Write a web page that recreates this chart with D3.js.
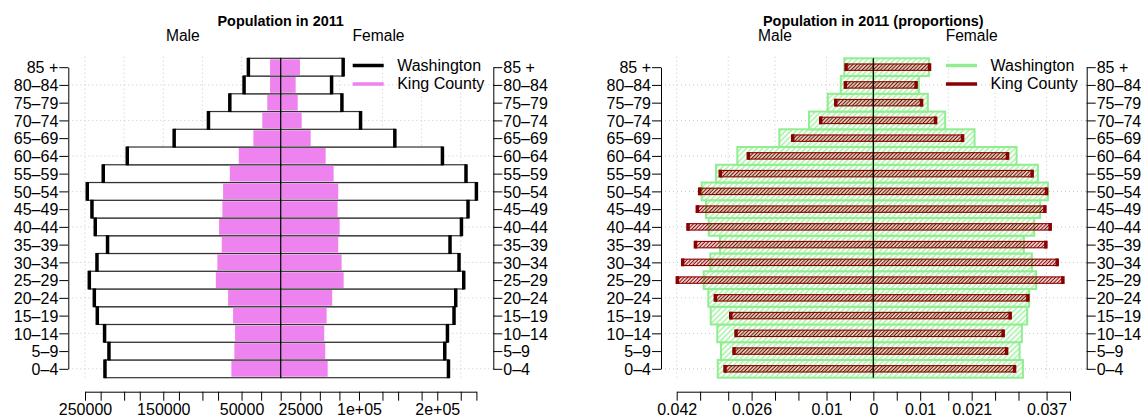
<!DOCTYPE html>
<html><head><meta charset="utf-8">
<script src="https://cdn.jsdelivr.net/npm/d3@7"></script>
<style>
body{margin:0;background:#fff;}
svg{font-family:"Liberation Sans",Arial,Helvetica,sans-serif;}
</style></head><body>
<svg id="c" width="1142" height="417"></svg>
<script>
// ---------- data (ordered 0–4 ... 85 +) ----------
const ages = ["0–4","5–9","10–14","15–19","20–24","25–29","30–34","35–39","40–44","45–49","50–54","55–59","60–64","65–69","70–74","75–79","80–84","85 +"];
const waMale   = [224500,219400,225000,234300,238100,244500,234700,221200,236900,241100,247100,226700,196000,136100,92300,65000,46800,41300];
const waFemale = [214300,209600,213000,221400,223600,233800,227800,216300,230900,239300,250000,236700,206600,145800,102000,78200,65000,79800];
const kcMale   = [63000,59200,58300,60800,67200,82900,80900,75300,78700,74500,73600,65000,53600,34900,23500,17100,13600,13600];
const kcFemale = [60000,56900,55600,58700,65800,80400,77800,73500,75300,72700,73500,67600,57400,38300,26800,21700,19100,24600];

const waMaleP   = [0.03324,0.03254,0.03333,0.03474,0.03525,0.03623,0.03482,0.03275,0.03516,0.03574,0.03666,0.0336,0.02905,0.02008,0.01374,0.00974,0.00696,0.0062];
const waFemaleP = [0.03194,0.03123,0.03172,0.03286,0.03328,0.03478,0.03386,0.03215,0.03435,0.03563,0.03728,0.03514,0.03059,0.02162,0.01534,0.01164,0.00972,0.01186];
const kcMaleP   = [0.03168,0.02976,0.02933,0.03046,0.03375,0.04187,0.04072,0.038,0.03959,0.0376,0.03709,0.03269,0.0267,0.01722,0.01124,0.00803,0.00598,0.00583];
const kcFemaleP = [0.03016,0.02846,0.02773,0.02922,0.03301,0.04048,0.03927,0.03685,0.03777,0.03664,0.037,0.03392,0.02867,0.01906,0.01329,0.0103,0.00914,0.012];

const leftTicks  = [-250000,-230000,-200000,-180000,-150000,-130000,-100000,-80000,-50000,-25000,0,25000,50000,75000,100000,130000,150000,180000,200000,230000,250000];
const leftTickLabels = ["250000","","","","150000","","","","50000","","","25000","","","1e+05","","","","2e+05","",""];
const leftGrid = [-250000,-200000,-150000,-100000,-50000,25000,75000,130000,180000,230000];

const rightTicks = [-0.042,-0.037,-0.031,-0.026,-0.021,-0.016,-0.01,-0.005,0,0.005,0.01,0.016,0.021,0.026,0.031,0.037,0.042];
const rightTickLabels = ["0.042","","","0.026","","","0.01","","0","","0.01","","0.021","","","0.037",""];
const rightGrid = [-0.042,-0.031,-0.021,-0.01,0.005,0.016,0.026,0.037];

const titles = ["Population in 2011","Population in 2011 (proportions)"];
const sideLabels = ["Male","Female"];
const legendNames = ["Washington","King County"];

// ---------- setup ----------
const svg = d3.select("#c");
const FS = 16;
const GRID = "#c8c8c8";
const GREEN = "#90ee90", RED = "#8b0000", VIOLET = "#ee82ee";

const defs = svg.append("defs");
const gp = defs.append("pattern").attr("id","gh").attr("patternUnits","userSpaceOnUse")
  .attr("width",3.8).attr("height",3.8).attr("patternTransform","rotate(45)");
gp.append("rect").attr("width",3.8).attr("height",3.8).attr("fill","#fff");
gp.append("line").attr("x1",1.9).attr("y1",0).attr("x2",1.9).attr("y2",3.8).attr("stroke",GREEN).attr("stroke-width",1.2);
const rp = defs.append("pattern").attr("id","rh").attr("patternUnits","userSpaceOnUse")
  .attr("width",2.6).attr("height",2.6).attr("patternTransform","rotate(45)");
rp.append("line").attr("x1",1.3).attr("y1",0).attr("x2",1.3).attr("y2",2.6).attr("stroke",RED).attr("stroke-width",1.2);

const agesTop = ages.slice().reverse();
const y = d3.scaleBand().domain(agesTop).range([58.3, 377.7]).padding(0);
const bw = y.bandwidth();
const yc = a => y(a) + bw/2;
const yP = d3.scalePoint().domain(agesTop).range([yc(agesTop[0]), yc(agesTop[agesTop.length-1])]);

const xL = d3.scaleLinear().domain([-250000, 250000]).range([85, 476.4]);
const xR = d3.scaleLinear().domain([-0.042, 0.042]).range([676.7, 1070]);

function grid(x, vals, plotX0, plotX1) {
  const g = svg.append("g");
  g.selectAll("line.v").data(vals).join("line")
    .attr("x1", d => x(d)).attr("x2", d => x(d)).attr("y1", 56.7).attr("y2", 380)
    .attr("stroke", GRID).attr("stroke-dasharray","1,3");
  g.selectAll("line.h").data(ages.filter((d,i) => i % 2 === 0)).join("line")
    .attr("x1", plotX0).attr("x2", plotX1).attr("y1", d => yc(d)).attr("y2", d => yc(d))
    .attr("stroke", GRID).attr("stroke-dasharray","1,3");
}

function axes(x, ticks, labels, yl, yr) {
  const ax = svg.append("g").attr("transform","translate(0,391.7)")
    .call(d3.axisBottom(x).tickValues(ticks).tickFormat((d,i) => labels[i]).tickSize(9).tickSizeOuter(0).tickPadding(3));
  const al = svg.append("g").attr("transform",`translate(${yl},0)`)
    .call(d3.axisLeft(yP).tickSize(9).tickSizeOuter(0).tickPadding(1));
  const ar = svg.append("g").attr("transform",`translate(${yr},0)`)
    .call(d3.axisRight(yP).tickSize(9).tickSizeOuter(0).tickPadding(1));
  [ax, al, ar].forEach(g => {
    g.selectAll("text").attr("font-size", FS).attr("fill","#000").attr("font-family",'"Liberation Sans",Arial,sans-serif');
    g.selectAll("line,path").attr("stroke","#000").attr("stroke-width",1);
  });
  al.selectAll("text").attr("dy","0.36em");
  ar.selectAll("text").attr("dy","0.36em");
}

function header(cx, x, title) {
  svg.append("text").attr("x", cx).attr("y", 25.5).attr("text-anchor","middle")
    .attr("font-size",14.4).attr("font-weight","bold").text(title);
  svg.selectAll(null).data(sideLabels).enter().append("text")
    .attr("x", (d,i) => i === 0 ? x(x.domain()[0]/2) : x(x.domain()[1]/2))
    .attr("y", 40.9).attr("text-anchor","middle").attr("font-size",15.6).text(d => d);
}

function legend(x0, colors, widths) {
  const g = svg.append("g");
  legendNames.forEach((n, i) => {
    const ly = 65.5 + i * 18.5;
    g.append("line").attr("x1", x0).attr("x2", x0 + 31).attr("y1", ly).attr("y2", ly)
      .attr("stroke", colors[i]).attr("stroke-width", widths[i]);
    g.append("text").attr("x", x0 + 44.5).attr("y", ly + 5.4).attr("font-size", FS).text(n);
  });
}

// ---------- left panel ----------
grid(xL, leftGrid, 68.3, 493.3);
const L = svg.append("g");
ages.forEach((a, i) => {
  L.append("rect").attr("x", xL(-waMale[i])).attr("y", y(a)).attr("width", xL(0) - xL(-waMale[i])).attr("height", bw)
    .attr("fill","#fff").attr("stroke","#333").attr("stroke-width",1.2);
  L.append("rect").attr("x", xL(0)).attr("y", y(a)).attr("width", xL(waFemale[i]) - xL(0)).attr("height", bw)
    .attr("fill","#fff").attr("stroke","#333").attr("stroke-width",1.2);
});
ages.forEach((a, i) => {
  L.append("rect").attr("x", xL(-kcMale[i])).attr("y", y(a) + 1).attr("width", xL(0) - xL(-kcMale[i])).attr("height", bw - 2)
    .attr("fill", VIOLET);
  L.append("rect").attr("x", xL(0)).attr("y", y(a) + 1).attr("width", xL(kcFemale[i]) - xL(0)).attr("height", bw - 2)
    .attr("fill", VIOLET);
});
ages.forEach((a, i) => {
  [xL(-waMale[i]), xL(waFemale[i])].forEach(px => {
    L.append("line").attr("x1", px).attr("x2", px).attr("y1", y(a) - 0.5).attr("y2", y(a) + bw + 0.5)
      .attr("stroke","#000").attr("stroke-width",3.5);
  });
});
L.append("line").attr("x1", xL(0)).attr("x2", xL(0)).attr("y1", 58.3).attr("y2", 377.7).attr("stroke","#000").attr("stroke-width",1.2);
axes(xL, leftTicks, leftTickLabels, 68.3, 493.3);
header(xL(0), xL, titles[0]);
legend(352.7, ["#000", VIOLET], [3.5, 3.5]);

// ---------- right panel ----------
grid(xR, rightGrid, 661, 1086.7);
const R = svg.append("g");
ages.forEach((a, i) => {
  R.append("rect").attr("x", xR(-waMaleP[i])).attr("y", y(a)).attr("width", xR(0) - xR(-waMaleP[i])).attr("height", bw)
    .attr("fill","url(#gh)").attr("stroke",GREEN).attr("stroke-width",2);
  R.append("rect").attr("x", xR(0)).attr("y", y(a)).attr("width", xR(waFemaleP[i]) - xR(0)).attr("height", bw)
    .attr("fill","url(#gh)").attr("stroke",GREEN).attr("stroke-width",2);
});
ages.forEach((a, i) => {
  const c = yc(a);
  R.append("rect").attr("x", xR(-kcMaleP[i])).attr("y", c - 3.2).attr("width", xR(0) - xR(-kcMaleP[i])).attr("height", 6.4)
    .attr("fill","url(#rh)").attr("stroke",RED).attr("stroke-width",1.1);
  R.append("rect").attr("x", xR(0)).attr("y", c - 3.2).attr("width", xR(kcFemaleP[i]) - xR(0)).attr("height", 6.4)
    .attr("fill","url(#rh)").attr("stroke",RED).attr("stroke-width",1.1);
  [xR(-kcMaleP[i]), xR(kcFemaleP[i])].forEach(px => {
    R.append("line").attr("x1", px).attr("x2", px).attr("y1", c - 3.9).attr("y2", c + 3.9)
      .attr("stroke",RED).attr("stroke-width",3.5);
  });
});
R.append("line").attr("x1", xR(0)).attr("x2", xR(0)).attr("y1", 58.3).attr("y2", 377.7).attr("stroke","#000").attr("stroke-width",1.2);
axes(xR, rightTicks, rightTickLabels, 661, 1086.7);
header(xR(0), xR, titles[1]);
legend(946, [GREEN, RED], [3.5, 3.5]);
</script>
</body></html>
